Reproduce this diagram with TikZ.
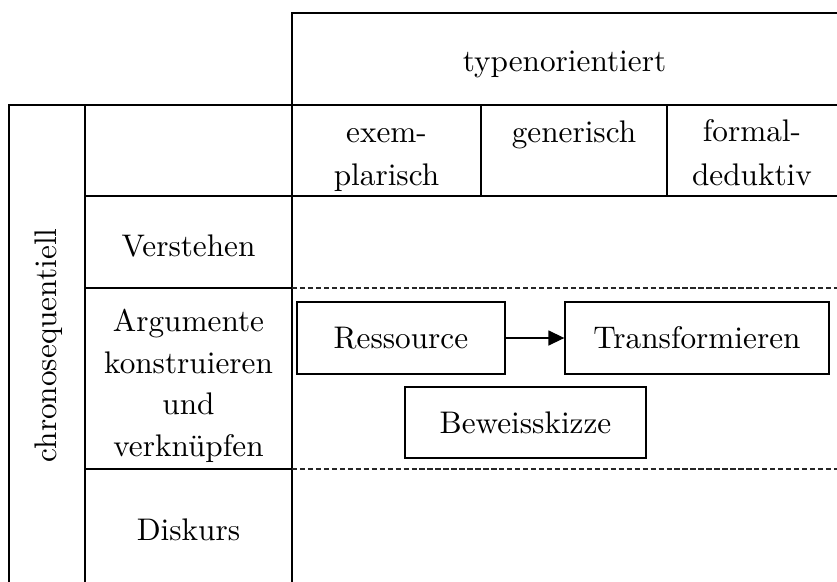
\documentclass[tikz,border=0pt]{standalone}
\usetikzlibrary{arrows.meta}
\begin{document}
\begin{tikzpicture}[x=0.32pt,y=-0.32pt,
  rule/.style={line width=0.65pt},
  split/.style={line width=0.4pt,black!85,dash pattern=on 1.7pt off 0.85pt},
  lbl/.style={font=\fontsize{10}{12}\selectfont,inner sep=0pt},
  hdr/.style={align=center,font=\fontsize{10}{13.8}\selectfont,inner sep=0pt},
  stepbox/.style={draw,line width=0.4pt,inner sep=0pt,font=\fontsize{10}{12}\selectfont},
  link/.style={line width=0.4pt,-{Triangle[length=5.1pt,width=4.8pt]}}]
\useasboundingbox (0,0) rectangle (837,582);

% grid of the table
\draw[rule] (837,13) -- (292,13) -- (292,582);
\draw[rule] (837,105) -- (9,105) -- (9,582);
\draw[rule] (85,105) -- (85,582);
\draw[rule] (85,196) -- (837,196);
\draw[rule] (481,105) -- (481,196);
\draw[rule] (667,105) -- (667,196);
\draw[rule] (85,288) -- (292,288);
\draw[rule] (85,469) -- (292,469);
\draw[split] (292,288) -- (837,288);
\draw[split] (292,469) -- (837,469);

% headings
\node[lbl,anchor=base] (typ) at (564.5,71.7) {typenorientiert};
\node[lbl,anchor=base,rotate=90] (chrono) at (56,345.5) {chronosequentiell};
\node[hdr] (exem) at (386.5,159.8) {exem-\\plarisch};
\node[lbl,anchor=base] (gen) at (574,142) {generisch};
\node[hdr] (formal) at (752,152.7) {formal-\\deduktiv};

% phases
\node[lbl,anchor=base] (verst) at (188.5,256) {Verstehen};
\node[align=center,inner sep=0pt,font=\fontsize{10}{13.33}\selectfont] (arg) at (188.5,385.9)
  {Argumente\\konstruieren\\und\\verknüpfen};
\node[lbl,anchor=base] (disk) at (188.5,540) {Diskurs};

% activities
\node[stepbox,minimum width=66.56pt,minimum height=23.04pt] (res) at (401,338) {Ressource};
\node[stepbox,minimum width=84.5pt,minimum height=23.04pt] (trans) at (697,338) {Transformieren};
\node[stepbox,minimum width=77.1pt,minimum height=22.7pt] (bew) at (525.5,422.5) {Beweisskizze};
\draw[link] (res) -- (trans);
\end{tikzpicture}
\end{document}
